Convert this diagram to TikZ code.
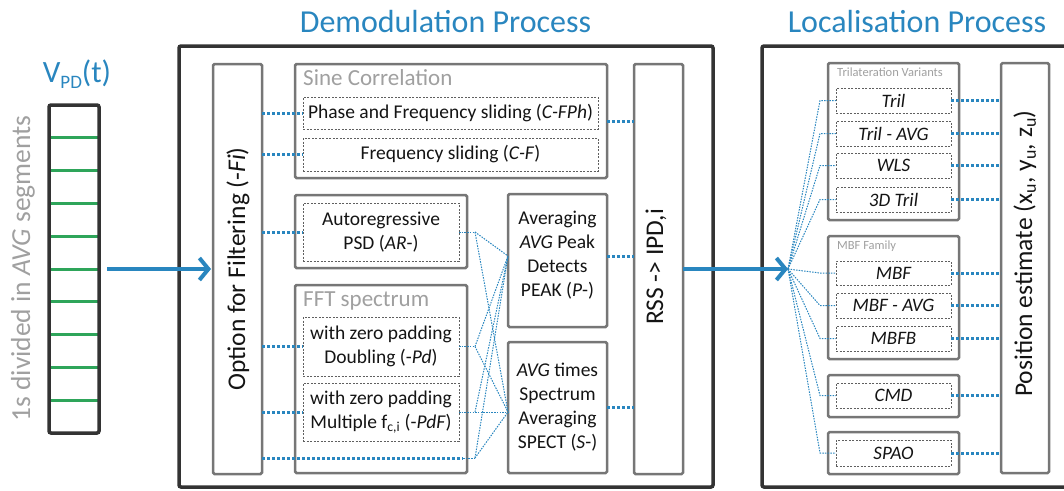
\documentclass[tikz,border=0pt]{standalone}
\usepackage{fontspec}
\setmainfont{Carlito}
\usetikzlibrary{arrows.meta}
\definecolor{myblue}{RGB}{41,134,191}
\definecolor{frameC}{RGB}{51,51,51}
\definecolor{boxC}{RGB}{118,118,118}
\definecolor{dashC}{RGB}{95,95,95}
\definecolor{txtC}{RGB}{20,20,20}
\definecolor{ttlC}{RGB}{160,160,160}
\definecolor{segC}{RGB}{46,165,90}
\newcommand\bodyfont{\fontsize{19.5}{24}\selectfont}
\newcommand\locfont{\fontsize{19}{22}\selectfont\itshape}
\newcommand\bigfont{\fontsize{25.5}{30}\selectfont}
\newcommand\headfont{\fontsize{32}{38}\selectfont}
\newcommand\grayfont{\fontsize{23}{27}\selectfont}
\newcommand\smallgray{\fontsize{12.5}{15}\selectfont}
\newcommand\mkbox[7]{\node[#1, minimum width={(#5)-(#3)}, minimum height={(#6)-(#4)}] (#2) at ({((#3)+(#5))/2},{((#4)+(#6))/2}) {#7};}
\tikzset{
  frame/.style={draw=frameC, line width=3.5pt, rounded corners=2pt, inner sep=0pt, outer sep=0pt},
  gbox/.style={draw=boxC, line width=2.5pt, rounded corners=1.5pt, inner sep=0pt, outer sep=0pt, fill=white, text=txtC, align=center, font=\bodyfont},
  dbox/.style={draw=dashC, line width=1pt, dash pattern=on 2pt off 1.5pt, inner sep=0pt, outer sep=0pt, text=txtC, align=center, font=\bodyfont},
  locbox/.style={dbox, font=\locfont},
  gtitle/.style={anchor=base west, inner sep=0pt, text=ttlC, font=\grayfont},
  vtext/.style={rotate=90, anchor=base, inner sep=0pt, text=txtC, font=\bigfont},
  conn/.style={draw=myblue, line width=3pt, dash pattern=on 3pt off 2pt},
  fan/.style={draw=myblue, line width=1pt, dash pattern=on 1.5pt off 1.2pt},
  bigarrow/.style={draw=myblue, line width=4pt, -{Straight Barb[length=9pt,width=22pt]}},
  segline/.style={draw=segC, line width=3pt},
}
\begin{document}
\begin{tikzpicture}[x=1pt,y=-1pt]
\clip (0,0) rectangle (1064,490);
% titles
\node[anchor=base, inner sep=0pt, font=\headfont, text=myblue] (tdemod) at (445.5,32) {Demodulation Process};
\node[anchor=base, inner sep=0pt, font=\headfont, text=myblue] (tloc) at (917,32) {Localisation Process};
\node[anchor=base, inner sep=0pt, font=\fontsize{31}{36}\selectfont, text=myblue] (vpd) at (77,82) {V\raisebox{-6pt}{\fontsize{19}{19}\selectfont PD}(t)};
\node[rotate=90, anchor=base, inner sep=0pt, font=\fontsize{27.5}{32}\selectfont, text=ttlC] (segtxt) at (30,268.5) {1s divided in \textit{AVG} segments};

% segment bar
\foreach \k in {1,...,9} \draw[segline] (50.5,{105+32.8*\k}) -- (97.5,{105+32.8*\k});
\mkbox{frame}{seg}{49}{105}{99}{433}{}

% frames
\mkbox{frame}{demod}{179}{46}{713}{487}{}
\mkbox{frame}{loc}{762}{46}{1075}{487}{}

% demodulation
\mkbox{gbox}{filt}{213}{64}{262}{474}{}
\node[vtext] (filttxt) at (245,269) {Option for Filtering (-\textit{Fi})};

\mkbox{gbox}{sc}{295}{64}{607}{178}{}
\node[gtitle] (sctitle) at (303,85) {Sine Correlation};
\mkbox{dbox}{sc1}{303}{97}{598}{129}{Phase and Frequency sliding (\textit{C-FPh})}
\mkbox{dbox}{sc2}{303}{138}{598}{171}{Frequency sliding (\textit{C-F})}

\mkbox{gbox}{arout}{295}{195}{467}{268}{}
\mkbox{dbox}{ar}{303}{203}{459}{261}{Autoregressive\\PSD (\textit{AR}-)}

\mkbox{gbox}{fftout}{295}{285}{467}{473}{}
\node[gtitle] (ffttitle) at (303,306) {FFT spectrum};
\mkbox{dbox}{fft1}{303}{317}{459}{376}{with zero padding\\Doubling (-\textit{Pd})}
\mkbox{dbox}{fft2}{303}{383}{459}{441}{with zero padding\\Multiple f\textsubscript{c,i} (-\textit{PdF})}

\mkbox{gbox}{peak}{508}{194}{607}{327}{}
\node[align=center, inner sep=0pt, text=txtC, font=\bodyfont] (peaktxt) at (557.5,255) {Averaging\\\textit{AVG} Peak\\Detects\\PEAK (\textit{P}-)};
\mkbox{gbox}{spect}{508}{342}{607}{473}{\textit{AVG} times\\Spectrum\\Averaging\\SPECT (\textit{S}-)}

\mkbox{gbox}{rss}{634}{64}{683}{474}{}
\node[vtext] (rsstxt) at (663,267) {RSS -> IPD,i};

% localisation
\mkbox{gbox}{tri}{828}{63}{959}{220}{}
\node[gtitle, font=\smallgray] (trititle) at (837,76) {Trilateration Variants};
\mkbox{locbox}{t1}{836}{88}{951}{113}{Tril}
\mkbox{locbox}{t2}{836}{121}{951}{146}{Tril - AVG}
\mkbox{locbox}{t3}{836}{153}{951}{178}{WLS}
\mkbox{locbox}{t4}{836}{187}{951}{212}{3D Tril}

\mkbox{gbox}{mbf}{828}{236}{959}{359}{}
\node[gtitle, font=\smallgray] (mbftitle) at (837,249) {MBF Family};
\mkbox{locbox}{m1}{836}{261}{951}{285}{MBF}
\mkbox{locbox}{m2}{836}{293}{951}{318}{MBF - AVG}
\mkbox{locbox}{m3}{836}{326}{951}{351}{MBFB}

\mkbox{gbox}{cmdout}{828}{375}{959}{417}{}
\mkbox{locbox}{cmd}{836}{383}{951}{408}{CMD}
\mkbox{gbox}{spaoout}{828}{432}{959}{474}{}
\mkbox{locbox}{spao}{836}{440}{951}{466}{SPAO}

\mkbox{gbox}{pos}{1001}{63}{1049}{473}{}
\node[vtext] (postxt) at (1032,253.5) {Position estimate (x\textsubscript{u}, y\textsubscript{u}, z\textsubscript{u})};

% coordinates
\coordinate (s1) at (475,232);
\coordinate (s2) at (475,346.5);
\coordinate (s3) at (475,412);
\coordinate (s4) at (475,458);
\coordinate (pk) at (508,256);
\coordinate (sp) at (508,412);
\coordinate (F) at (788,269);

% demod connectors
\foreach \n in {sc1,sc2,ar,fft1,fft2} \draw[conn] (filt.east |- \n.west) -- (\n.west);
\draw[conn] (filt.east |- s4) -- ([xshift=-12pt]s4);
\draw[fan] ([xshift=-12pt]s4) -- (s4);
\draw[fan] (ar.east) -- (s1);
\draw[fan] (fft1.east) -- (s2);
\draw[fan] (fft2.east) -- (sp);
\foreach \s in {s1,s2,s3,s4} \draw[fan] (\s) -- (pk);
\foreach \s in {s1,s2,s4} \draw[fan] (\s) -- (sp);
\draw[conn] (sc.east) -- (sc.east -| rss.west);
\draw[conn] (peak.east |- pk) -- (rss.west |- pk);
\draw[conn] (spect.east) -- (spect.east -| rss.west);

% localisation connectors
\foreach \n in {t1,t2,t3,t4,m1,m2,m3,cmd,spao} {
  \draw[fan] (F) -- ([xshift=-16pt]\n.west) -- (\n.west);
  \draw[conn] (\n.east) -- (\n.east -| pos.west);
}

% arrows
\draw[bigarrow, shorten <=8pt, shorten >=2pt] (seg) -- (filt);
\draw[bigarrow] (rss) -- (F);
\end{tikzpicture}
\end{document}
